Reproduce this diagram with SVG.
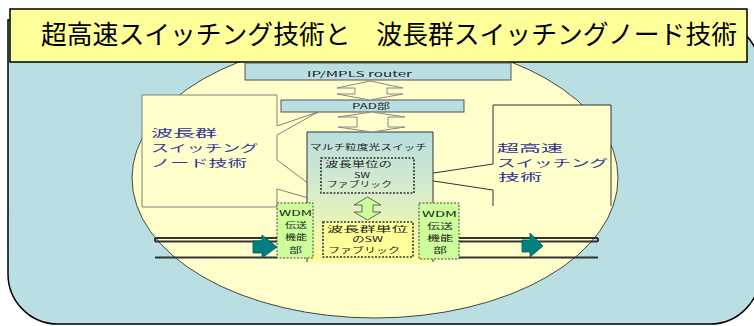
<svg xmlns="http://www.w3.org/2000/svg" width="754" height="326" viewBox="0 0 754 326">
<defs>
<linearGradient id="swg" x1="0" y1="0" x2="0" y2="1">
<stop offset="0" stop-color="#B8DEE0"/>
<stop offset="0.45" stop-color="#D6ECCB"/>
<stop offset="1" stop-color="#FFFF99"/>
</linearGradient>
<style>
.jp{font-family:"Noto Sans CJK JP","Noto Sans",sans-serif;}
.blue{fill:#333399;font-size:10.5px;}
.sm{fill:#222;font-size:7.5px;}
.bar{fill:#B9DFE2;stroke:#555;stroke-width:1;}
.callout{fill:#FFFFCC;stroke:#808080;stroke-width:1;}
.wdm{fill:#CCFF99;stroke:#444;stroke-width:1;stroke-dasharray:2 1.5;}
.fab{stroke:#333;stroke-width:1.6;stroke-dasharray:2 1.5;}
.dbl{fill:#FFFFCC;stroke:#888;stroke-width:1;}
.line{stroke:#333;fill:none;}
.teal{fill:#008080;stroke:#005555;stroke-width:0.8;}
</style>
</defs>

<g id="background">
<path d="M8,20 H710 A50,50 0 0 1 760,70 V274 A50,50 0 0 1 710,324 H58 A50,50 0 0 1 8,274 Z" fill="#B9DFE2" stroke="#000" stroke-width="1.5"/>
<ellipse cx="375" cy="178" rx="243" ry="140" fill="#FFFFCC" stroke="#444" stroke-width="1"/>
</g>

<g id="title">
<rect x="10" y="9" width="737" height="53" fill="#FFFF99" stroke="#000" stroke-width="1.5"/>
<text class="jp" x="41" y="44" font-size="26" fill="#000" textLength="696" lengthAdjust="spacingAndGlyphs">超高速スイッチング技術と　波長群スイッチングノード技術</text>
</g>

<g id="callout-left">
<polygon class="callout" points="142,95 277,95 277,126 318,112 277,135 277,160 340,207 277,189 277,207 142,207"/>
<text class="jp blue" x="151" y="137" textLength="66" lengthAdjust="spacingAndGlyphs">波長群</text>
<text class="jp blue" x="151" y="152" textLength="107" lengthAdjust="spacingAndGlyphs">スイッチング</text>
<text class="jp blue" x="151" y="166.5" textLength="96" lengthAdjust="spacingAndGlyphs">ノード技術</text>
</g>

<g id="callout-right">
<polygon points="493,105 611,105 611,206 493,206 493,190 407,177 493,164" fill="#FFFFCC"/>
<path d="M493,164 V105 H611 V206 M493,164 L407,177 L493,190 V206" class="line" stroke="#808080" stroke-width="1"/>
<text class="jp blue" x="497" y="152" textLength="66" lengthAdjust="spacingAndGlyphs">超高速</text>
<text class="jp blue" x="497" y="166.5" textLength="111" lengthAdjust="spacingAndGlyphs">スイッチング</text>
<text class="jp blue" x="498" y="181" textLength="44" lengthAdjust="spacingAndGlyphs">技術</text>
</g>

<g id="ip-router">
<rect class="bar" x="245" y="63" width="266" height="17"/>
<text class="jp sm" x="307" y="77" textLength="105" lengthAdjust="spacingAndGlyphs">IP/MPLS router</text>
</g>

<g id="pad">
<rect class="bar" x="281" y="100" width="183" height="12"/>
<text class="jp sm" x="352" y="109" textLength="38" lengthAdjust="spacingAndGlyphs">PAD部</text>
</g>

<g id="multi-switch">
<rect x="307" y="132" width="126" height="130" fill="url(#swg)"/>
<path d="M307,262 V132 H433 V262" class="line" stroke="#555" stroke-width="1"/>
<text class="jp sm" x="310" y="150" font-size="8.5" textLength="117" lengthAdjust="spacingAndGlyphs">マルチ粒度光スイッチ</text>
</g>

<g id="fabric-wavelength">
<rect class="fab" x="321" y="158" width="93" height="35" fill="none"/>
<text class="jp sm" x="325" y="167" textLength="67" lengthAdjust="spacingAndGlyphs">波長単位の</text>
<text class="jp sm" x="354" y="177.5" font-size="6.5" textLength="16" lengthAdjust="spacingAndGlyphs">SW</text>
<text class="jp sm" x="327" y="187" textLength="65" lengthAdjust="spacingAndGlyphs">ファブリック</text>
</g>

<g id="fabric-group">
<rect class="fab" x="323" y="222" width="90" height="35" fill="#FFFF99"/>
<text class="jp sm" x="327" y="232" textLength="81" lengthAdjust="spacingAndGlyphs">波長群単位</text>
<text class="jp sm" x="352" y="242" textLength="31" lengthAdjust="spacingAndGlyphs">のSW</text>
<text class="jp sm" x="328" y="252.5" textLength="72" lengthAdjust="spacingAndGlyphs">ファブリック</text>
</g>

<g id="wdm-left">
<rect class="wdm" x="277" y="203" width="36" height="55"/>
<text class="jp sm" x="279" y="216" font-size="7" textLength="33" lengthAdjust="spacingAndGlyphs">WDM</text>
<text class="jp sm" x="285" y="228" font-size="8.5" textLength="22" lengthAdjust="spacingAndGlyphs">伝送</text>
<text class="jp sm" x="285" y="240" font-size="8.5" textLength="22" lengthAdjust="spacingAndGlyphs">機能</text>
<text class="jp sm" x="289" y="253" font-size="9.5" textLength="13" lengthAdjust="spacingAndGlyphs">部</text>
</g>

<g id="wdm-right">
<rect class="wdm" x="419" y="203" width="40" height="56"/>
<text class="jp sm" x="422" y="217" font-size="7" textLength="35" lengthAdjust="spacingAndGlyphs">WDM</text>
<text class="jp sm" x="427" y="229" font-size="8.5" textLength="26" lengthAdjust="spacingAndGlyphs">伝送</text>
<text class="jp sm" x="427" y="241" font-size="8.5" textLength="26" lengthAdjust="spacingAndGlyphs">機能</text>
<text class="jp sm" x="433" y="253" font-size="9.5" textLength="14" lengthAdjust="spacingAndGlyphs">部</text>
</g>

<g id="connectors">
<polygon class="dbl" points="370,81 403,88 387,88 387,94 403,94 370,100 337,94 355,94 355,88 337,88"/>
<polygon class="dbl" points="372,112 405,117 388,117 388,127 405,127 372,132 338,127 357,127 357,117 338,117"/>
<polygon points="367.5,197 381,205 373,205 373,212 381,212 367.5,220 354,212 362,212 362,205 354,205" fill="#CCFF99" stroke="#444" stroke-width="0.8"/>
<path class="line" d="M155,238 H277 M155,241.5 H277 M155,238 V241.5" stroke-width="2"/>
<path class="line" d="M155,257.5 H277" stroke-width="2.2"/>
<path class="line" d="M459,238 H598 M459,241.5 H598 M598,238 V241.5" stroke-width="2"/>
<path class="line" d="M459,257.5 H598" stroke-width="2.2"/>
<polygon class="teal" points="253,241 262,241 262,235 277,247 262,258 262,253 253,253"/>
<polygon class="teal" points="522,240 530,240 530,233 543,246 530,257 530,252 522,252"/>
</g>
</svg>
